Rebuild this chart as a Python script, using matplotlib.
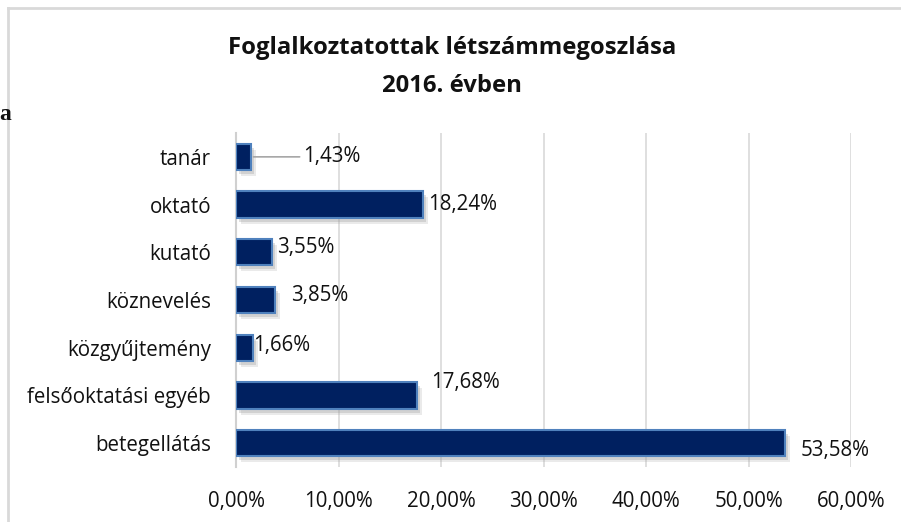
import matplotlib.pyplot as plt
import matplotlib.transforms as mtransforms
from matplotlib.lines import Line2D

# Data
categories = ['tanár', 'oktató', 'kutató', 'köznevelés', 'közgyűjtemény',
              'felsőoktatási egyéb', 'betegellátás']
shares = [1.43, 18.24, 3.55, 3.85, 1.66, 17.68, 53.58]
xticks = [0, 10, 20, 30, 40, 50, 60]

# label offsets (pixels) from bar end, to mimic the original placement
label_offsets = [(52, 0), (5, 0), (5, 5), (16, 4), (0, 2), (14, 13), (15, -7)]

plt.rcParams['font.family'] = ['Open Sans', 'DejaVu Sans']
FS = 14.8

fig = plt.figure(figsize=(9.01, 5.22), dpi=100)
ax = fig.add_axes([236 / 901, 1 - 467 / 522, (851 - 236) / 901, (467 - 133) / 522])

ypos = list(range(len(categories)))

# soft shadow behind bars
for dx, dy, a in [(5, -6, 0.2), (3, -4, 0.3)]:
    off = mtransforms.offset_copy(ax.transData, fig=fig, x=dx, y=dy, units='dots')
    ax.barh(ypos, shares, height=0.55, color='#9a9a9a', alpha=a,
            transform=off, zorder=2, linewidth=0)

bars = ax.barh(ypos, shares, height=0.55, color='#002060',
               edgecolor='#4f81bd', linewidth=1.5, zorder=3)

for i, (v, (dx, dy)) in enumerate(zip(shares, label_offsets)):
    txt = f"{v:.2f}%".replace('.', ',')
    ax.annotate(txt, xy=(v, i), xytext=(dx, dy), textcoords='offset pixels',
                ha='left', va='center', fontsize=FS, color='#111111', zorder=5)
    if dx > 30:
        # leader line to a label placed away from its bar
        ax.annotate('', xy=(v, i), xytext=(dx - 3, 0), textcoords='offset pixels',
                    arrowprops=dict(arrowstyle='-', color='#a6a6a6', lw=1.2,
                                    shrinkA=0, shrinkB=2))

ax.set_xlim(0, 60)
ax.set_ylim(len(categories) - 0.5, -0.5)
ax.set_yticks(ypos)
ax.set_yticklabels(categories, fontsize=FS, color='#111111')
ax.set_xticks(xticks)
ax.set_xticklabels([f"{t:.2f}%".replace('.', ',') for t in xticks],
                   fontsize=FS, color='#111111')
ax.tick_params(length=0)
ax.tick_params(axis='y', pad=18)
ax.tick_params(axis='x', pad=17)
ax.grid(axis='x', color='#d9d9d9', linewidth=1.2, zorder=0)
ax.set_axisbelow(True)
for s in ['top', 'right', 'bottom']:
    ax.spines[s].set_visible(False)
ax.spines['left'].set_color('#d0d0d0')
ax.spines['left'].set_linewidth(1.5)

fig.text(452 / 901, 1 - 48 / 522, 'Foglalkoztatottak létszámmegoszlása',
         ha='center', va='center', fontsize=17.2, fontweight='bold', color='#111111')
fig.text(452 / 901, 1 - 86 / 522, '2016. évben',
         ha='center', va='center', fontsize=17.2, fontweight='bold', color='#111111')

# stray letter from the surrounding document at the left edge
fig.text(-1 / 901, 1 - 115 / 522, 'a', ha='left', va='center', fontsize=17,
         fontweight='bold', family='Liberation Serif', color='#111111')

# chart frame
fig.add_artist(Line2D([8 / 901, 8 / 901], [0, 1 - 8 / 522], transform=fig.transFigure,
                      color='#d9d9d9', linewidth=2))
fig.add_artist(Line2D([8 / 901, 1], [1 - 8 / 522, 1 - 8 / 522], transform=fig.transFigure,
                      color='#d9d9d9', linewidth=2))

fig.savefig('out.png', dpi=100)
